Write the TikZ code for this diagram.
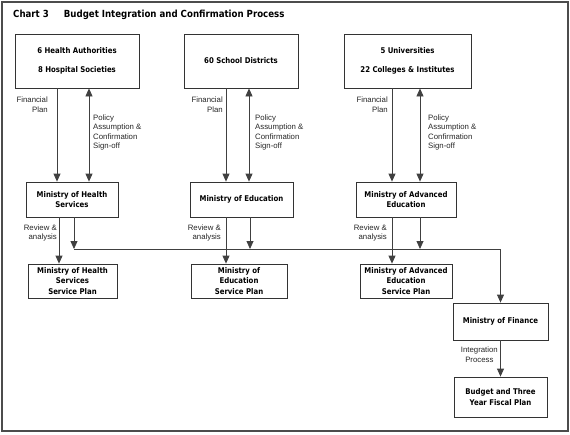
\documentclass[tikz,border=0pt]{standalone}
\usepackage{fontspec}
\setmainfont{DejaVu Sans}[FakeStretch=0.88]
\newfontfamily\lblfont{Liberation Sans}
\usetikzlibrary{arrows.meta}

\begin{document}
\begin{tikzpicture}[x=1pt, y=-1pt,
  box/.style={draw=black!80, line width=0.8pt, align=center, inner sep=1pt,
    font=\fontsize{7.9}{10.5}\selectfont\bfseries},
  lbl/.style={inner sep=0pt, text=black!85, font=\lblfont\fontsize{7.8}{9.6}\selectfont},
  arr/.style={draw=black!75, line width=0.8pt, -{Triangle[length=8pt,width=7pt]}},
  darr/.style={arr, {Triangle[length=8pt,width=7pt]}-{Triangle[length=8pt,width=7pt]}}]

\useasboundingbox (0,0) rectangle (570,434);

% Frame and title
\draw[black!70, line width=1.8pt] (2,2) rectangle (568,431);
\node[anchor=west, inner sep=0pt, font=\fontsize{9.8}{11}\selectfont\bfseries] (title) at (13,15)
  {Chart 3\hspace*{15pt}Budget Integration and Confirmation Process};

% Top row
\node[box, minimum width=124, minimum height=54] (ha) at (77,61) {6 Health Authorities\\[9pt]8 Hospital Societies};
\node[box, minimum width=114, minimum height=54] (sd) at (241,61) {60 School Districts};
\node[box, minimum width=127, minimum height=54] (uni) at (407.5,61) {5 Universities\\[9pt]22 Colleges \& Institutes};

% Ministries
\node[box, minimum width=92, minimum height=35] (mhs) at (72,199.5) {Ministry of Health\\Services};
\node[box, minimum width=103, minimum height=35] (med) at (241.5,199.5) {Ministry of Education};
\node[box, minimum width=100, minimum height=35] (mae) at (406,199.5) {Ministry of Advanced\\Education};

% Service plans
\node[box, minimum width=89, minimum height=34] (mhsp) at (72.5,281) {Ministry of Health\\Services\\Service Plan};
\node[box, minimum width=96, minimum height=34] (medp) at (239,281) {Ministry of\\Education\\Service Plan};
\node[box, minimum width=92, minimum height=34] (maep) at (406,281) {Ministry of Advanced\\Education\\Service Plan};

% Finance
\node[box, minimum width=95, minimum height=37] (mof) at (500.5,321.5) {Ministry of Finance};
\node[box, minimum width=93, minimum height=40] (bud) at (500.5,397) {Budget and Three\\Year Fiscal Plan};

% Columns of the connectors
\coordinate (hf) at (57,0);
\coordinate (hp) at (89,0);
\coordinate (hr) at (59,0);
\coordinate (hb) at (74,0);
\coordinate (ef) at (226,0);
\coordinate (ep) at (249,0);
\coordinate (eb) at (250,0);
\coordinate (uf) at (392,0);
\coordinate (up) at (420,0);
\coordinate (bus) at (0,249);

% Health
\draw[arr] (hf |- ha.south) -- (hf |- mhs.north);
\draw[darr] (hp |- ha.south) -- (hp |- mhs.north);
\draw[arr] (hr |- mhs.south) -- (hr |- mhsp.north);
\draw[arr] (hb |- mhs.south) -- (hb |- bus);

% Education
\draw[arr] (ef |- sd.south) -- (ef |- med.north);
\draw[darr] (ep |- sd.south) -- (ep |- med.north);
\draw[arr] (ef |- med.south) -- (ef |- medp.north);
\draw[arr] (eb |- med.south) -- (eb |- bus);

% Advanced education
\draw[arr] (uf |- uni.south) -- (uf |- mae.north);
\draw[darr] (up |- uni.south) -- (up |- mae.north);
\draw[arr] (uf |- mae.south) -- (uf |- maep.north);
\draw[arr] (up |- mae.south) -- (up |- bus);

% To finance
\draw[arr] (hb |- bus) -- (bus -| mof.north) -- (mof.north);
\draw[arr] (mof.south) -- (bud.north);

% Labels
\node[lbl, anchor=east, align=right] (hfl) at (48,105) {Financial\\Plan};
\node[lbl, anchor=west, align=left] (hpl) at (93,132.5) {Policy\\Assumption \&\\Confirmation\\Sign-off};
\node[lbl, anchor=east, align=right] (efl) at (223,105) {Financial\\Plan};
\node[lbl, anchor=west, align=left] (epl) at (255,132.5) {Policy\\Assumption \&\\Confirmation\\Sign-off};
\node[lbl, anchor=east, align=right] (ufl) at (388,105) {Financial\\Plan};
\node[lbl, anchor=west, align=left] (upl) at (428,132.5) {Policy\\Assumption \&\\Confirmation\\Sign-off};

\node[lbl, anchor=east, align=right] (hrl) at (57,233) {Review \&\\analysis};
\node[lbl, anchor=east, align=right] (erl) at (221,233) {Review \&\\analysis};
\node[lbl, anchor=east, align=right] (url) at (387,233) {Review \&\\analysis};
\node[lbl, anchor=east, align=center] (il) at (498,355) {Integration\\Process};

\end{tikzpicture}
\end{document}
